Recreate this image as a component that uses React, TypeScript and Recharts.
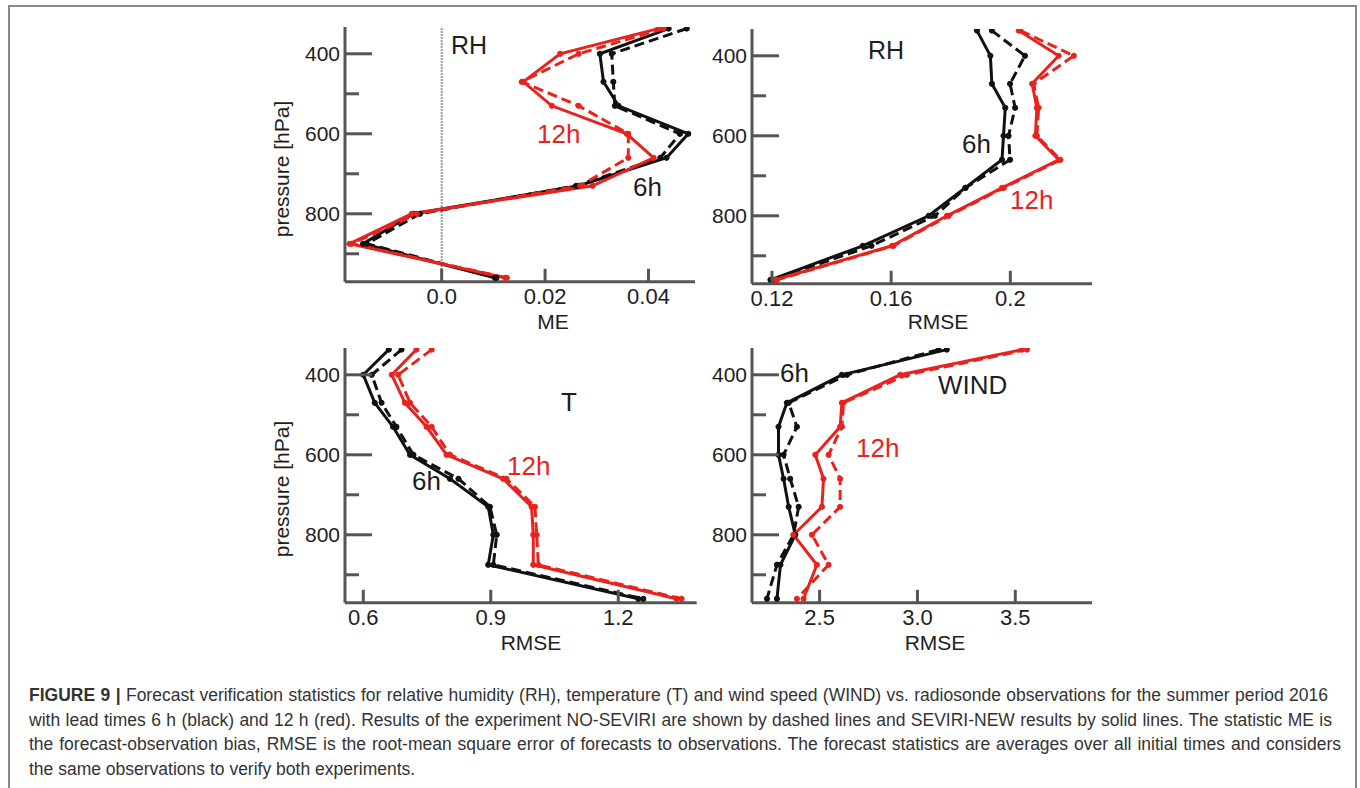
import React from 'react';
import { LineChart, Line, XAxis, YAxis, ReferenceLine } from 'recharts';

// ---------- data ----------
const PRESSURE = [337, 400, 470, 530, 600, 660, 730, 800, 875, 960];
const PRESSURE_TICKS = [400, 500, 600, 700, 800, 900];
const PRESSURE_LABELED = [400, 600, 800];
const P_MIN = 333;
const P_MAX = 970;

// RH mean error (ME)
const RH_ME_6H_NEW = [0.0439, 0.0306, 0.0313, 0.0342, 0.0477, 0.0435, 0.0265, -0.0055, -0.0152, 0.0103];
const RH_ME_6H_NOSEV = [0.0474, 0.0329, 0.0332, 0.0335, 0.0461, 0.0423, 0.026, -0.0042, -0.0145, 0.0106];
const RH_ME_12H_NEW = [0.0419, 0.0229, 0.0158, 0.0213, 0.0358, 0.041, 0.0292, -0.0058, -0.0178, 0.0123];
const RH_ME_12H_NOSEV = [0.0429, 0.0265, 0.0155, 0.0265, 0.0361, 0.0361, 0.0268, -0.0048, -0.0174, 0.0126];

// RH RMSE
const RH_RMSE_6H_NEW = [0.1888, 0.1933, 0.1938, 0.1983, 0.1977, 0.1972, 0.1849, 0.1726, 0.1505, 0.1195];
const RH_RMSE_6H_NOSEV = [0.1938, 0.2049, 0.1999, 0.2016, 0.1994, 0.1999, 0.185, 0.1747, 0.1534, 0.1205];
const RH_RMSE_12H_NEW = [0.2028, 0.2162, 0.2073, 0.2089, 0.2084, 0.2162, 0.1972, 0.1787, 0.1603, 0.1211];
const RH_RMSE_12H_NOSEV = [0.2034, 0.2213, 0.2078, 0.2095, 0.2089, 0.2168, 0.1978, 0.1793, 0.1608, 0.1217];

// T RMSE
const T_RMSE_6H_NEW = [0.66, 0.6, 0.627, 0.67, 0.71, 0.804, 0.894, 0.906, 0.894, 1.247];
const T_RMSE_6H_NOSEV = [0.69, 0.62, 0.643, 0.678, 0.718, 0.824, 0.898, 0.914, 0.906, 1.259];
const T_RMSE_12H_NEW = [0.725, 0.667, 0.698, 0.749, 0.796, 0.929, 0.996, 1.0, 1.0, 1.337];
const T_RMSE_12H_NOSEV = [0.761, 0.682, 0.71, 0.761, 0.804, 0.937, 1.004, 1.008, 1.012, 1.349];

// WIND RMSE
const WIND_RMSE_6H_NEW = [3.15, 2.614, 2.333, 2.29, 2.29, 2.316, 2.342, 2.376, 2.3, 2.282];
const WIND_RMSE_6H_NOSEV = [3.108, 2.64, 2.342, 2.384, 2.316, 2.35, 2.393, 2.367, 2.282, 2.231];
const WIND_RMSE_12H_NEW = [3.534, 2.912, 2.614, 2.605, 2.478, 2.52, 2.512, 2.367, 2.486, 2.418];
const WIND_RMSE_12H_NOSEV = [3.56, 2.946, 2.622, 2.614, 2.546, 2.605, 2.605, 2.461, 2.546, 2.384];

// x ticks
const ME_TICKS = [0, 0.02, 0.04];
const ME_TICK_LABELS = ['0.0', '0.02', '0.04'];
const RH_RMSE_TICKS = [0.12, 0.16, 0.2];
const RH_RMSE_TICK_LABELS = ['0.12', '0.16', '0.2'];
const T_TICKS = [0.6, 0.9, 1.2];
const T_TICK_LABELS = ['0.6', '0.9', '1.2'];
const WIND_TICKS = [2.5, 3.0, 3.5];
const WIND_TICK_LABELS = ['2.5', '3.0', '3.5'];

const BLACK = '#111111';
const RED = '#e8231e';
const AXIS = '#555555';
const TEXT = '#1e1e1e';
const FONT = '"Liberation Sans", Arial, Helvetica, sans-serif';

type PanelProps = {
  axisX: number;
  plotTop: number;
  plotW: number;
  xDomain: [number, number];
  xTicks: number[];
  xLabels: string[];
  k6new: number[];
  k6nosev: number[];
  r12new: number[];
  r12nosev: number[];
  zeroLine?: boolean;
};

const YW = 70;
const MT = 6;
const MR = 6;
const XH = 50;
const PX_PER_HPA = 0.4;

function Panel(props: PanelProps) {
  const { axisX, plotTop, plotW, xDomain, xTicks, xLabels, k6new, k6nosev, r12new, r12nosev, zeroLine } = props;
  const plotH = (P_MAX - P_MIN) * PX_PER_HPA;
  const width = YW + plotW + MR;
  const height = MT + plotH + XH;
  const plotBottom = MT + plotH;
  const plotLeft = YW;

  const rows = PRESSURE.map((p, i) => ({
    p,
    k6nosev: k6nosev[i],
    k6new: k6new[i],
    r12nosev: r12nosev[i],
    r12new: r12new[i],
  }));

  const xTick = (tp: any) => {
    const v = tp.payload.value;
    let idx = 0;
    let best = Infinity;
    xTicks.forEach((t, i) => {
      const d = Math.abs(t - v);
      if (d < best) {
        best = d;
        idx = i;
      }
    });
    return (
      <g>
        <line x1={tp.x} x2={tp.x} y1={plotBottom} y2={plotBottom - 13} stroke={AXIS} strokeWidth={3} />
        <text x={tp.x} y={plotBottom + 22.5} textAnchor="middle" fontSize={22} fill={TEXT} fontFamily={FONT}>
          {xLabels[idx]}
        </text>
      </g>
    );
  };

  const yTick = (tp: any) => {
    const v = tp.payload.value;
    const major = PRESSURE_LABELED.includes(v);
    return (
      <g>
        <line x1={plotLeft} x2={plotLeft + (major ? 27 : 14)} y1={tp.y} y2={tp.y} stroke={AXIS} strokeWidth={3} />
        {major && (
          <text x={plotLeft - 5} y={tp.y + 0.36 * 21} textAnchor="end" fontSize={21} fill={TEXT} fontFamily={FONT}>
            {v}
          </text>
        )}
      </g>
    );
  };

  const dot = (c: string) => ({ r: 2.6, fill: c, stroke: c, strokeWidth: 1, strokeDasharray: 'none' });

  return (
    <div style={{ position: 'absolute', left: axisX - YW, top: plotTop - MT }}>
      <LineChart
        width={width}
        height={height}
        data={rows}
        layout="vertical"
        margin={{ top: MT, right: MR, bottom: 0, left: 0 }}
      >
        <XAxis
          type="number"
          domain={xDomain}
          allowDataOverflow
          ticks={xTicks}
          interval={0}
          height={XH}
          axisLine={{ stroke: AXIS, strokeWidth: 3 }}
          tickLine={false}
          tick={xTick}
        />
        <YAxis
          type="number"
          dataKey="p"
          domain={[P_MIN, P_MAX]}
          allowDataOverflow
          ticks={PRESSURE_TICKS}
          interval={0}
          width={YW}
          axisLine={{ stroke: AXIS, strokeWidth: 3 }}
          tickLine={false}
          tick={yTick}
        />
        {zeroLine && <ReferenceLine x={0} stroke="#7a7a7a" strokeDasharray="1.5 1.5" strokeWidth={2} />}
        <Line dataKey="k6nosev" stroke={BLACK} strokeWidth={3} strokeDasharray="10 5" dot={dot(BLACK)} isAnimationActive={false} />
        <Line dataKey="k6new" stroke={BLACK} strokeWidth={3} dot={dot(BLACK)} isAnimationActive={false} />
        <Line dataKey="r12nosev" stroke={RED} strokeWidth={3} strokeDasharray="10 5" dot={dot(RED)} isAnimationActive={false} />
        <Line dataKey="r12new" stroke={RED} strokeWidth={3} dot={dot(RED)} isAnimationActive={false} />
      </LineChart>
    </div>
  );
}

type Note = { text: string; left: number; top: number; color: string; size: number };
const NOTES: Note[] = [
  { text: 'RH', left: 451, top: 33, color: TEXT, size: 25 },
  { text: '12h', left: 537, top: 121, color: RED, size: 26 },
  { text: '6h', left: 633, top: 174, color: TEXT, size: 26 },
  { text: 'RH', left: 868, top: 38, color: TEXT, size: 25 },
  { text: '6h', left: 962, top: 131, color: TEXT, size: 26 },
  { text: '12h', left: 1010, top: 187, color: RED, size: 26 },
  { text: 'T', left: 561, top: 389, color: TEXT, size: 26 },
  { text: '12h', left: 507, top: 453, color: RED, size: 26 },
  { text: '6h', left: 412, top: 468, color: TEXT, size: 26 },
  { text: '6h', left: 780, top: 360, color: TEXT, size: 26 },
  { text: 'WIND', left: 938, top: 372, color: TEXT, size: 26 },
  { text: '12h', left: 856, top: 435, color: RED, size: 26 },
];

type AxisTitle = { text: string; cx: number; cy: number; rotate: boolean };
const AXIS_TITLES: AxisTitle[] = [
  { text: 'pressure [hPa]', cx: 281, cy: 169, rotate: true },
  { text: 'pressure [hPa]', cx: 281, cy: 489, rotate: true },
  { text: 'ME', cx: 553, cy: 320.5, rotate: false },
  { text: 'RMSE', cx: 938, cy: 320.5, rotate: false },
  { text: 'RMSE', cx: 531, cy: 642, rotate: false },
  { text: 'RMSE', cx: 935, cy: 642, rotate: false },
];

const CAPTION_LINES = [
  'Forecast verification statistics for relative humidity (RH), temperature (T) and wind speed (WIND) vs. radiosonde observations for the summer period 2016',
  'with lead times 6 h (black) and 12 h (red). Results of the experiment NO-SEVIRI are shown by dashed lines and SEVIRI-NEW results by solid lines. The statistic ME is',
  'the forecast-observation bias, RMSE is the root-mean square error of forecasts to observations. The forecast statistics are averages over all initial times and considers',
  'the same observations to verify both experiments.',
];
const CAPTION_WIDTHS = [1299, 1303, 1312];

export default function App() {
  const justified: React.CSSProperties = { textAlign: 'justify', textAlignLast: 'justify' as any, whiteSpace: 'normal' };
  return (
    <div style={{ position: 'absolute', left: 0, top: 0, width: 1360, height: 788, background: '#fff', fontFamily: FONT, overflow: 'hidden' }}>
      <div
        style={{
          position: 'absolute',
          left: 8,
          top: 5,
          width: 1349,
          height: 783,
          boxSizing: 'border-box',
          borderTop: '2px solid #8a8a8a',
          borderLeft: '2px solid #8a8a8a',
          borderRight: '2px solid #8a8a8a',
        }}
      />
      <Panel
        axisX={345}
        plotTop={26.5}
        plotW={350}
        xDomain={[-0.0187, 0.049]}
        xTicks={ME_TICKS}
        xLabels={ME_TICK_LABELS}
        k6new={RH_ME_6H_NEW}
        k6nosev={RH_ME_6H_NOSEV}
        r12new={RH_ME_12H_NEW}
        r12nosev={RH_ME_12H_NOSEV}
        zeroLine
      />
      <Panel
        axisX={751.7}
        plotTop={29.2}
        plotW={340}
        xDomain={[0.1133, 0.2274]}
        xTicks={RH_RMSE_TICKS}
        xLabels={RH_RMSE_TICK_LABELS}
        k6new={RH_RMSE_6H_NEW}
        k6nosev={RH_RMSE_6H_NOSEV}
        r12new={RH_RMSE_12H_NEW}
        r12nosev={RH_RMSE_12H_NOSEV}
      />
      <Panel
        axisX={345}
        plotTop={348.2}
        plotW={351.7}
        xDomain={[0.557, 1.3845]}
        xTicks={T_TICKS}
        xLabels={T_TICK_LABELS}
        k6new={T_RMSE_6H_NEW}
        k6nosev={T_RMSE_6H_NOSEV}
        r12new={T_RMSE_12H_NEW}
        r12nosev={T_RMSE_12H_NOSEV}
      />
      <Panel
        axisX={751.7}
        plotTop={348.2}
        plotW={340}
        xDomain={[2.1546, 3.892]}
        xTicks={WIND_TICKS}
        xLabels={WIND_TICK_LABELS}
        k6new={WIND_RMSE_6H_NEW}
        k6nosev={WIND_RMSE_6H_NOSEV}
        r12new={WIND_RMSE_12H_NEW}
        r12nosev={WIND_RMSE_12H_NOSEV}
      />
      {NOTES.map((n, i) => (
        <div
          key={'n' + i}
          style={{ position: 'absolute', left: n.left, top: n.top, fontSize: n.size, lineHeight: 1, color: n.color, whiteSpace: 'nowrap' }}
        >
          {n.text}
        </div>
      ))}
      {AXIS_TITLES.map((a, i) => (
        <div
          key={'a' + i}
          style={{
            position: 'absolute',
            left: a.cx,
            top: a.cy,
            fontSize: 21,
            lineHeight: 1,
            color: TEXT,
            whiteSpace: 'nowrap',
            transform: `translate(-50%, -50%)${a.rotate ? ' rotate(-90deg)' : ''}`,
          }}
        >
          {a.text}
        </div>
      ))}
      <div style={{ position: 'absolute', left: 29, top: 683.3, fontSize: 17.5, lineHeight: '24.5px', color: '#333' }}>
        <div style={{ ...justified, width: CAPTION_WIDTHS[0] }}>
          <b>FIGURE 9 |</b> {CAPTION_LINES[0]}
        </div>
        <div style={{ ...justified, width: CAPTION_WIDTHS[1] }}>{CAPTION_LINES[1]}</div>
        <div style={{ ...justified, width: CAPTION_WIDTHS[2] }}>{CAPTION_LINES[2]}</div>
        <div style={{ whiteSpace: 'nowrap' }}>{CAPTION_LINES[3]}</div>
      </div>
    </div>
  );
}
